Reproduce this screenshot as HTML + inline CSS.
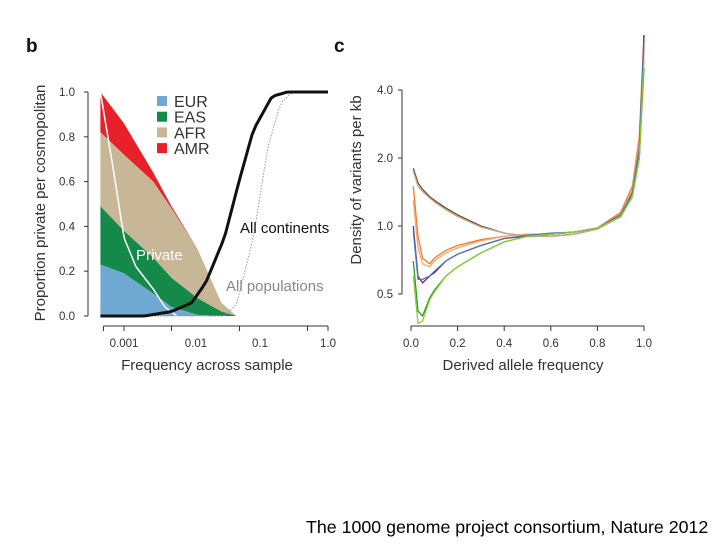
<!DOCTYPE html>
<html><head><meta charset="utf-8"><style>
body{margin:0;background:#fff;width:720px;height:540px;overflow:hidden;font-family:"Liberation Sans",sans-serif}
svg text{font-family:"Liberation Sans",sans-serif}
</style></head><body>
<svg id="fig" width="720" height="540">
<text x="26" y="52" font-size="19" font-weight="bold" fill="#111">b</text>
<text x="334" y="52" font-size="19" font-weight="bold" fill="#111">c</text>
<g id="pb"></g>
<g id="pc"></g>
<text x="306" y="533" font-size="17.8" fill="#000">The 1000 genome project consortium, Nature 2012</text>
</svg>
<script>
// ---- Panel b data ----
const bFreq=[0.00045,0.001,0.0027,0.005,0.012,0.027,0.045];
const bEUR=[0.23,0.19,0.10,0.04,0.005,0,0];
const bEAS=[0.49,0.38,0.26,0.17,0.08,0.02,0];
const bAFR=[0.82,0.72,0.60,0.48,0.30,0.06,0];
const bAMR=[1.0,0.86,0.64,0.49,0.30,0.06,0];
const contFreq=[0.00045,0.002,0.005,0.01,0.016,0.03,0.05,0.08,0.15,0.25,1];
const contVal=[0,0,0.02,0.06,0.15,0.35,0.61,0.83,0.98,1,1];
const popFreq=[0.00045,0.03,0.045,0.08,0.13,0.2,0.3,1];
const popVal=[0,0,0.05,0.35,0.75,0.95,1,1];
const privFreq=[0.00045,0.0007,0.001,0.0015,0.0027,0.004,0.006];
const privVal=[1.0,0.65,0.35,0.22,0.12,0.04,0];
const bYTicks=[0,0.2,0.4,0.6,0.8,1.0];
const bYLabels=["0.0","0.2","0.4","0.6","0.8","1.0"];
const bXTicks=[0.0005,0.001,0.005,0.05,0.5,1];
const bXLabelVals=[0.001,0.01,0.1,1];
const bXLabels=["0.001","0.01","0.1","1.0"];
const legendNames=["EUR","EAS","AFR","AMR"];
const legendColors=["#6fa8d0","#14894a","#c8b796","#e8202a"];
// ---- Panel c data ----
const cX=[0.01,0.03,0.05,0.08,0.1,0.15,0.2,0.3,0.4,0.5,0.6,0.7,0.8,0.9,0.95,0.98,1.0];
const cBrown=[1.8,1.55,1.45,1.35,1.3,1.2,1.12,1.0,0.93,0.9,0.9,0.92,0.97,1.1,1.4,2.0,7.0];
const cTan=[1.75,1.5,1.42,1.33,1.28,1.18,1.1,0.99,0.93,0.9,0.9,0.92,0.97,1.1,1.4,2.1,6.0];
const cOrange=[1.5,0.9,0.72,0.68,0.72,0.78,0.82,0.87,0.9,0.92,0.92,0.94,0.98,1.15,1.5,2.5,7.0];
const cLtOrange=[1.3,0.8,0.68,0.66,0.7,0.76,0.8,0.86,0.9,0.92,0.92,0.94,0.98,1.13,1.45,2.4,6.5];
const cPurple=[1.0,0.6,0.56,0.6,0.62,0.7,0.75,0.82,0.88,0.9,0.92,0.94,0.98,1.12,1.4,2.2,7.0];
const cBlue=[0.95,0.58,0.58,0.6,0.63,0.7,0.75,0.82,0.88,0.91,0.93,0.94,0.98,1.12,1.4,2.2,6.5];
const cGreen=[0.7,0.42,0.4,0.48,0.52,0.6,0.66,0.76,0.85,0.9,0.92,0.94,0.98,1.1,1.35,2.0,5.0];
const cLtGreen=[0.6,0.37,0.38,0.47,0.51,0.6,0.66,0.76,0.85,0.9,0.92,0.94,0.98,1.1,1.35,2.0,5.5];
const cSeries=[cBrown,cTan,cOrange,cLtOrange,cPurple,cBlue,cGreen,cLtGreen];
const cColors=["#6b4a2e","#c8a888","#f07a2a","#f5a66a","#7a2a6a","#4a78b8","#2a9a2a","#8ccc3a"];
const cNames=["series-brown","series-tan","series-orange","series-light-orange","series-purple","series-blue","series-green","series-light-green"];
const cYTicks=[0.5,1,2,4];
const cYLabels=["0.5","1.0","2.0","4.0"];
const cXTicks=[0,0.2,0.4,0.6,0.8,1.0];
const cXLabels=["0.0","0.2","0.4","0.6","0.8","1.0"];

const NS="http://www.w3.org/2000/svg";
function mk(p,t,a){const e=document.createElementNS(NS,t);for(const k in a)e.setAttribute(k,a[k]);p.appendChild(e);return e;}
const bx=f=>328+68*Math.log10(f);
const by=v=>316-224*v;
const pb=document.getElementById('pb');
function interp(xs,ys,f){if(f<=xs[0])return ys[0];for(let i=1;i<xs.length;i++){if(f<=xs[i]){const t=(Math.log(f)-Math.log(xs[i-1]))/(Math.log(xs[i])-Math.log(xs[i-1]));return ys[i-1]+t*(ys[i]-ys[i-1]);}}return ys[ys.length-1];}
function areaPath(top,bot){let d='';for(let i=0;i<bFreq.length;i++)d+=(i?'L':'M')+bx(bFreq[i]).toFixed(1)+','+by(top[i]).toFixed(1);for(let i=bFreq.length-1;i>=0;i--)d+='L'+bx(bFreq[i]).toFixed(1)+','+by(bot?bot[i]:0).toFixed(1);return d+'Z';}
const zero=bFreq.map(()=>0);
const layers=[[bAMR,bAFR,3],[bAFR,bEAS,2],[bEAS,bEUR,1],[bEUR,zero,0]];
layers.forEach(l=>{const p=mk(pb,'path',{d:areaPath(l[0],l[1]),fill:legendColors[l[2]]});

});
function linePath(xs,ys,xf,yf){let d='';const n=60;const lo=Math.log(xs[0]),hi=Math.log(xs[xs.length-1]);for(let i=0;i<=n;i++){const f=Math.exp(lo+(hi-lo)*i/n);d+=(i?'L':'M')+xf(f).toFixed(1)+','+yf(interp(xs,ys,f)).toFixed(1);}return d;}
let pv=mk(pb,'path',{d:linePath(privFreq,privVal,bx,by),fill:'none',stroke:'#fff','stroke-width':1.5});

let pp=mk(pb,'path',{d:linePath(popFreq,popVal,bx,by),fill:'none',stroke:'#999','stroke-width':1,'stroke-dasharray':'1.5,1.5'});

let pcn=mk(pb,'path',{d:linePath(contFreq,contVal,bx,by),fill:'none',stroke:'#111','stroke-width':3});

let ya=mk(pb,'line',{x1:88,y1:by(1),x2:88,y2:by(0),stroke:'#333','stroke-width':1});

bYTicks.forEach((v,i)=>{mk(pb,'line',{x1:84,x2:88,y1:by(v),y2:by(v),stroke:'#333'});
const t=mk(pb,'text',{x:75,y:by(v)+4,'font-size':11.5,'text-anchor':'end',fill:'#333'});t.textContent=bYLabels[i];
});
let xa=mk(pb,'line',{x1:bx(bXTicks[0]),x2:bx(1),y1:326,y2:326,stroke:'#333'});

bXTicks.forEach(v=>mk(pb,'line',{x1:bx(v),x2:bx(v),y1:326,y2:331,stroke:'#333'}));
bXLabelVals.forEach((v,i)=>{const t=mk(pb,'text',{x:bx(v)+(i==1?4:0),y:347,'font-size':11.5,'text-anchor':'middle',fill:'#333'});t.textContent=bXLabels[i];
});
let xt=mk(pb,'text',{x:207,y:370,'font-size':15,'text-anchor':'middle',fill:'#333'});xt.textContent='Frequency across sample';

let yt=mk(pb,'text',{x:0,y:0,'font-size':15,'text-anchor':'middle',fill:'#333',transform:'translate(45,203) rotate(-90)'});yt.textContent='Proportion private per cosmopolitan';

legendNames.forEach((n,i)=>{const y=101+15.7*i;mk(pb,'rect',{x:157,y:y-5,width:10,height:10,fill:legendColors[i]});
const t=mk(pb,'text',{x:174,y:y+6,'font-size':16,fill:'#333'});t.textContent=n;
});
[['All continents',240,233,'#111','label-all-continents'],['All populations',226,291,'#888','label-all-populations'],['Private',136,260,'#fff','label-private']].forEach(a=>{
const t=mk(pb,'text',{x:a[1],y:a[2],'font-size':15,fill:a[3]});t.textContent=a[0];
});
// panel c
const pc=document.getElementById('pc');
const cx=v=>411+233*v;
const cy=v=>226-68*Math.log2(v);
cSeries.forEach((s,k)=>{let d='';s.forEach((v,i)=>{d+=(i?'L':'M')+cx(cX[i]).toFixed(1)+','+Math.max(35,cy(v)).toFixed(1);});
const p=mk(pc,'path',{d:d,fill:'none',stroke:cColors[k],'stroke-width':1.3});
});
let cya=mk(pc,'line',{x1:402,x2:402,y1:cy(4),y2:cy(0.5),stroke:'#333'});

cYTicks.forEach((v,i)=>{mk(pc,'line',{x1:398,x2:402,y1:cy(v),y2:cy(v),stroke:'#333'});
const t=mk(pc,'text',{x:393,y:cy(v)+4,'font-size':11.5,'text-anchor':'end',fill:'#333'});t.textContent=cYLabels[i];
});
let cxa=mk(pc,'line',{x1:cx(0),x2:cx(1),y1:326,y2:326,stroke:'#333'});

cXTicks.forEach((v,i)=>{mk(pc,'line',{x1:cx(v),x2:cx(v),y1:326,y2:331,stroke:'#333'});
const t=mk(pc,'text',{x:cx(v),y:347,'font-size':11.5,'text-anchor':'middle',fill:'#333'});t.textContent=cXLabels[i];
});
let cxt=mk(pc,'text',{x:523,y:370,'font-size':15,'text-anchor':'middle',fill:'#333'});cxt.textContent='Derived allele frequency';

let cyt=mk(pc,'text',{x:0,y:0,'font-size':15,'text-anchor':'middle',fill:'#333',transform:'translate(361,180) rotate(-90)'});cyt.textContent='Density of variants per kb';

</script>
</body></html>
